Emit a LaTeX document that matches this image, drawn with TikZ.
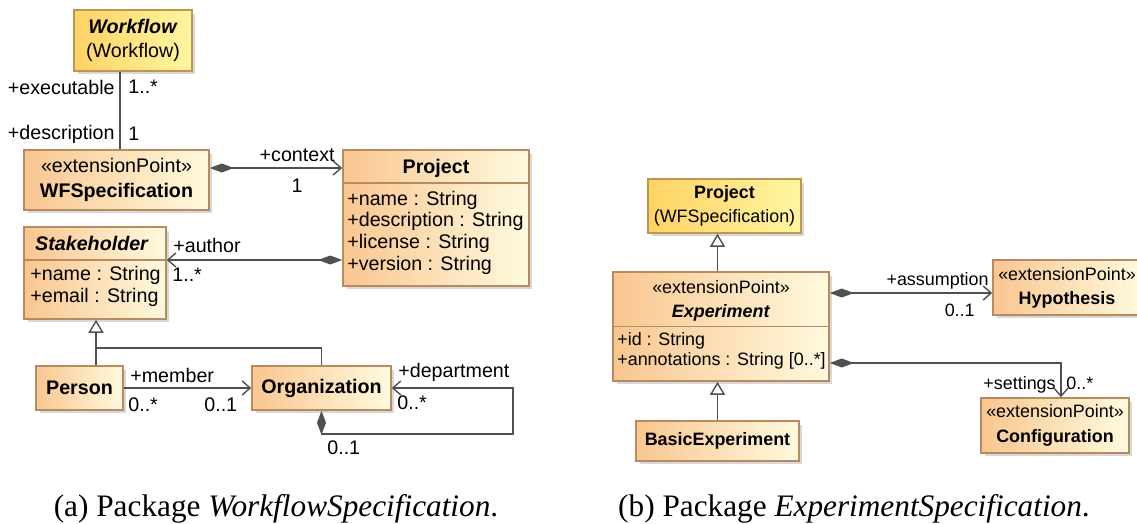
\documentclass[tikz,border=0pt]{standalone}
\usepackage{fontspec}
\setmainfont{Liberation Serif}
\setsansfont{Liberation Sans}
\usepackage{tikz}
\usetikzlibrary{arrows.meta, shadows}

\definecolor{clsline}{RGB}{184,138,96}
\definecolor{clsleft}{RGB}{249,198,144}
\definecolor{clsright}{RGB}{255,250,222}
\definecolor{wfline}{RGB}{190,150,80}
\definecolor{wfleft}{RGB}{255,210,100}
\definecolor{wfright}{RGB}{255,246,160}
\definecolor{conn}{RGB}{80,80,80}

\begin{document}
\begin{tikzpicture}
        [
            x=0.02cm, y=-0.02cm,
            every node/.style={font=\sffamily\fontsize{11.2}{12.3}\selectfont, inner sep=0pt},
            cls/.style={rectangle, draw=clsline, line width=0.9pt, left color=clsleft, right color=clsright, drop shadow={shadow xshift=0.07cm, shadow yshift=-0.07cm, fill=black!30}, align=center, font=\sffamily\fontsize{11.2}{14}\selectfont},
            ext/.style={cls, draw=wfline, left color=wfleft, right color=wfright},
            hdr/.style={align=center, font=\sffamily\fontsize{11.2}{14}\selectfont},
            rbox/.style={font=\sffamily\fontsize{10.2}{13.8}\selectfont},
            rtext/.style={font=\sffamily\fontsize{10.2}{11.4}\selectfont},
            compline/.style={draw=clsline, line width=0.9pt},
            assoc/.style={draw=conn, line width=0.8pt},
            comp/.style={assoc, {Diamond[length=0.48cm,width=0.18cm]}-{Straight Barb[length=0.16cm,width=0.28cm]}},
            nav/.style={assoc, -{Straight Barb[length=0.16cm,width=0.28cm]}},
            gen/.style={assoc, -{Triangle[open,length=0.26cm,width=0.3cm,fill=white]}},
            captext/.style={font=\rmfamily\fontsize{17.8}{20}\selectfont},
        ]
        \useasboundingbox (0,0) rectangle (1137,524);

        \node[ext, minimum width=2.36cm, minimum height=1.22cm] (wf) at (133,40.5) {\textbf{\textit{Workflow}}\\(Workflow)};
        \node[cls, minimum width=3.7cm, minimum height=1.2cm] (wfspec) at (116.5,180) {«extensionPoint»\\\textbf{WFSpecification}};
        \node[cls, minimum width=3.72cm, minimum height=2.72cm] (proj) at (436,218) {};
        \node (projname) at (436,168) {\textbf{Project}};
        \coordinate (projsep) at (436,183);
        \draw[compline] (proj.west |- projsep) -- (proj.east |- projsep);
        \node[anchor=west, align=left] (projattr) at (347,232.5) {+name : String\\+description : String\\+license : String\\+version : String};
        \node[cls, minimum width=2.84cm, minimum height=1.84cm] (stake) at (95,273) {};
        \node (stakename) at (92,243) {\textbf{\textit{Stakeholder}}};
        \coordinate (stakesep) at (95,260);
        \draw[compline] (stake.west |- stakesep) -- (stake.east |- stakesep);
        \node[anchor=west, align=left] (stakeattr) at (30,286.5) {+name : String\\+email : String};
        \node[cls, minimum width=1.74cm, minimum height=0.88cm] (person) at (79.5,388) {\textbf{Person}};
        \node[cls, minimum width=2.78cm, minimum height=0.88cm] (org) at (321.5,388) {\textbf{Organization}};

        \draw[assoc] ([xshift=0.07cm]wfspec.north) -- ([xshift=0.07cm]wfspec.north |- wf.south);
        \node[anchor=east] (lexec) at (115,87) {+executable};
        \node[anchor=west] (lexecm) at (128,87) {1..*};
        \node[anchor=east] (ldesc) at (115,134) {+description};
        \node[anchor=west] (ldescm) at (128,134) {1};
        \draw[comp] (wfspec.east |- projname) -- (proj.west |- projname);
        \node[anchor=east] (lctx) at (335,155) {+context};
        \node (lctxm) at (297,186) {1};
        \draw[comp] (proj.west |- stakesep) -- (stake.east |- stakesep);
        \node[anchor=west] (lauth) at (173,245) {+author};
        \node[anchor=west] (lauthm) at (172,275) {1..*};
        \coordinate (genjoin) at (96,348);
        \draw[assoc] (person.north -| genjoin) |- (org.north |- genjoin) -- (org.north);
        \draw[gen] (genjoin) -- (stake.south -| genjoin);
        \draw[nav] (person.east) -- (org.west);
        \node[anchor=west] (lmem) at (130,375) {+member};
        \node[anchor=west] (lmemp) at (128,405) {0..*};
        \node[anchor=west] (lmemo) at (204,405) {0..1};
        \coordinate (deploop) at (513,434);
        \draw[comp] (org.south) |- (deploop) |- (org.east);
        \node[anchor=west] (ldep) at (398,372) {+department};
        \node[anchor=west] (ldepm) at (397,403) {0..*};
        \node[anchor=west] (ldepo) at (327,448) {0..1};

        \node[ext, rbox, minimum width=3.06cm, minimum height=1.08cm] (projb) at (724.5,206) {\textbf{Project}\\(WFSpecification)};
        \node[cls, minimum width=4.32cm, minimum height=2.18cm] (exp) at (721,326.5) {};
        \node[hdr, rbox] (expname) at (721,301) {«extensionPoint»\\\textbf{\textit{Experiment}}};
        \draw[compline] (exp.west) -- (exp.east);
        \node[rtext, anchor=west, align=left] (expattr) at (617,351) {+id : String\\+annotations : String [0..*]};
        \node[cls, rbox, minimum width=3.26cm, minimum height=0.8cm] (basic) at (717.5,441) {\textbf{BasicExperiment}};
        \node[cls, rbox, minimum width=2.96cm, minimum height=1.1cm] (hyp) at (1067,287.5) {«extensionPoint»\\\textbf{Hypothesis}};
        \node[cls, rbox, minimum width=2.96cm, minimum height=1.1cm] (conf) at (1055,425.5) {«extensionPoint»\\\textbf{Configuration}};

        \draw[gen] (exp.north -| basic.north) -- (projb.south -| basic.north);
        \draw[gen] (basic.north) -- (exp.south -| basic.north);
        \draw[comp] ([yshift=0.67cm]exp.east) -- ([yshift=0.67cm]exp.east -| hyp.west);
        \node[rtext, anchor=east] (lass) at (989,281) {+assumption};
        \node[rtext, anchor=east] (lassm) at (975,310) {0..1};
        \draw[comp] ([yshift=-0.73cm]exp.east) -| ([xshift=0.12cm]conf.north);
        \node[rtext, anchor=east] (lset) at (1056,385) {+settings};
        \node[rtext, anchor=west] (lsetm) at (1066,383) {0..*};

        \node[captext] (capa) at (276,509) {(a) Package \textit{WorkflowSpecification}.};
        \node[captext] (capb) at (854,509) {(b) Package \textit{ExperimentSpecification}.};
      \end{tikzpicture}
\end{document}
